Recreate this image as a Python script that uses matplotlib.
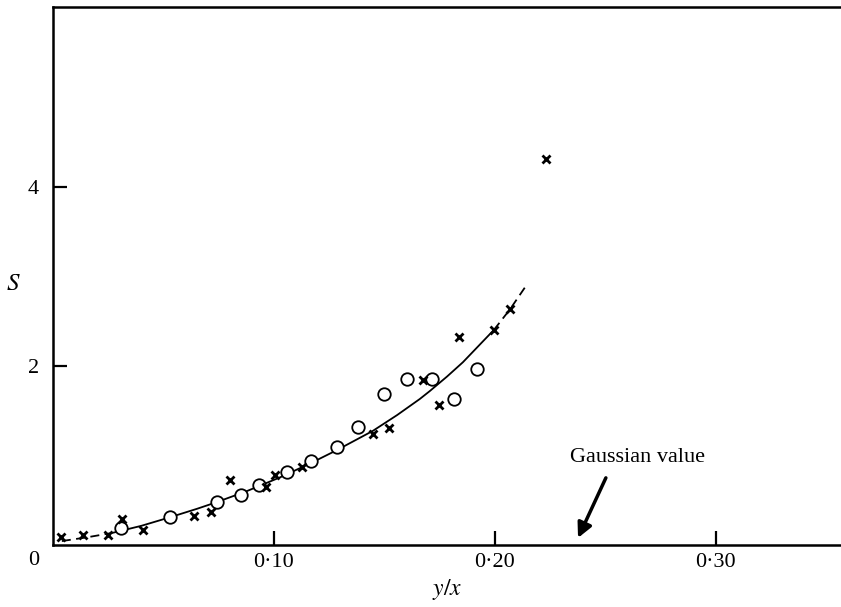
import matplotlib
matplotlib.use('Agg')
import matplotlib.pyplot as plt

plt.rcParams['font.family'] = ['Liberation Serif', 'DejaVu Serif']
plt.rcParams['mathtext.fontset'] = 'stix'

# open circles
circ_x = [0.0308, 0.0529, 0.0742, 0.0850, 0.0932, 0.1059, 0.1167, 0.1285,
          0.1380, 0.1498, 0.1600, 0.1715, 0.1814, 0.1919]
circ_y = [0.19, 0.31, 0.48, 0.56, 0.67, 0.82, 0.94, 1.09,
          1.32, 1.69, 1.85, 1.85, 1.63, 1.96]

# crosses
cross_x = [0.0036, 0.0136, 0.0249, 0.0312, 0.0407, 0.0638, 0.0715, 0.0800,
           0.0964, 0.1005, 0.1127, 0.1448, 0.1520, 0.1674, 0.1747, 0.1837,
           0.1995, 0.2068, 0.2231]
cross_y = [0.09, 0.11, 0.11, 0.29, 0.17, 0.32, 0.37, 0.73,
           0.65, 0.78, 0.87, 1.24, 1.31, 1.84, 1.56, 2.32,
           2.40, 2.63, 4.31]

# fitted curve
curve_x = [0.0040, 0.0150, 0.0267, 0.0400, 0.0529, 0.0652, 0.0742, 0.0880,
           0.1027, 0.1163, 0.1285, 0.1448, 0.1557, 0.1660, 0.1706, 0.1783,
           0.1855, 0.1995, 0.2068, 0.2140]
curve_y = [0.045, 0.085, 0.135, 0.215, 0.310, 0.405, 0.480, 0.605,
           0.755, 0.910, 1.060, 1.275, 1.450, 1.630, 1.720, 1.880,
           2.040, 2.400, 2.630, 2.890]

fig = plt.figure(figsize=(8.41, 6.07), dpi=100)
ax = fig.add_axes([0.063, 0.102, 0.937, 0.886])

# dashed ends, solid middle
ax.plot(curve_x[:3], curve_y[:3], color='black', lw=1.3, ls=(0, (5, 3)))
ax.plot(curve_x[2:-2], curve_y[2:-2], color='black', lw=1.3)
ax.plot(curve_x[-3:], curve_y[-3:], color='black', lw=1.3, ls=(0, (5, 3)))

ax.plot(circ_x, circ_y, 'o', ms=9, mfc='white', mec='black', mew=1.3)
ax.plot(cross_x, cross_y, 'x', ms=5.5, color='black', mew=2.0)

ax.set_xlim(0, 0.3566)
ax.set_ylim(0, 6.0)

ax.spines['right'].set_visible(False)
for s in ['left', 'bottom', 'top']:
    ax.spines[s].set_linewidth(1.8)

ax.set_xticks([0.10, 0.20, 0.30])
ax.set_xticklabels(['0·10', '0·20', '0·30'])
ax.set_yticks([2, 4])
ax.set_yticklabels(['2', '4'])
ax.tick_params(direction='in', length=10, width=1.6, labelsize=16, pad=6)
ax.tick_params(axis='y', pad=10)

ax.text(-0.006, -0.07, '0', transform=ax.transData, fontsize=16,
        ha='right', va='top')

ax.set_xlabel('$y/x$', fontsize=17, labelpad=3)
ax.set_ylabel('$S$', fontsize=18, rotation=0, va='center')
ax.yaxis.set_label_coords(-0.05, 0.486)

ax.text(0.234, 0.98, 'Gaussian value', fontsize=16, ha='left', va='center')
ax.annotate('', xy=(0.2376, 0.08), xytext=(0.2502, 0.75),
            arrowprops=dict(arrowstyle='-|>', color='black', lw=2.5,
                            mutation_scale=22, shrinkA=0, shrinkB=0))

fig.savefig('out.png', dpi=100)
